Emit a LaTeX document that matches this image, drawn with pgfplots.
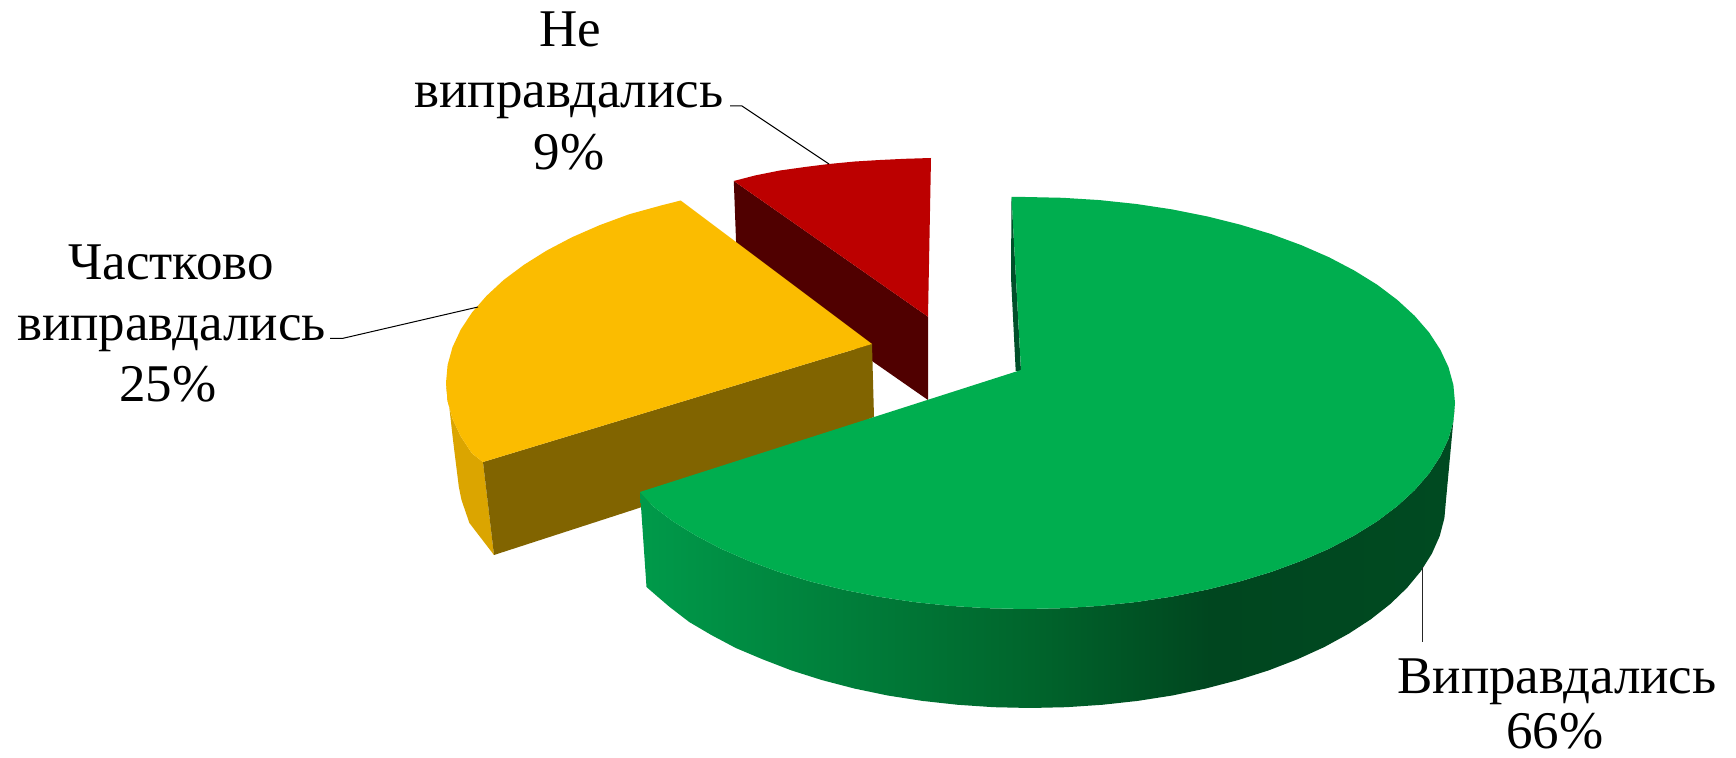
\documentclass[border=0pt]{standalone}
\usepackage{pgfplots}
\pgfplotsset{compat=1.18}
\usepackage{fontspec}
\setmainfont{Liberation Serif}
\definecolor{gtop}{HTML}{00AE4F}
\definecolor{gs0}{HTML}{009A4A}
\definecolor{gs1}{HTML}{00652C}
\definecolor{gs2}{HTML}{00461F}
\definecolor{gs3}{HTML}{004A21}
\definecolor{gnotch}{HTML}{00502A}
\definecolor{ytop}{HTML}{FBBC00}
\definecolor{yfront}{HTML}{816400}
\definecolor{yside}{HTML}{DBA500}
\definecolor{rtop}{HTML}{BC0000}
\definecolor{rside}{HTML}{500000}
\pgfdeclarehorizontalshading{greenside}{100bp}{color(0bp)=(gs0); color(25bp)=(gs0); color(49bp)=(gs1); color(60bp)=(gs2); color(75bp)=(gs3); color(100bp)=(gs3)}
\tikzset{lab/.style={font=\fontsize{26.5}{30}\selectfont, anchor=base, inner sep=0pt, outer sep=0pt, text=black}}
\begin{document}
\begin{tikzpicture}
\begin{axis}[
  scale only axis, width=868pt, height=379pt,
  xmin=0, xmax=1736, ymin=0, ymax=758, y dir=reverse,
  hide axis, clip=false
]
% page background: keeps the picture at the reference's size
\addplot[draw=none, fill=white] coordinates {(0,0) (1736,0) (1736,758) (0,758)} --cycle;
% red slice
\addplot[draw=none, fill=rside] coordinates {(733.8,181) (928,316.7) (928,400) (737,267)} --cycle;
\addplot[draw=none, fill=rtop] coordinates {(733.8,181) (755,175.5) (780,170.5) (805,167) (829,164) (855,161.5) (880,160) (905,158.8) (931,158) (928,316.7)} --cycle;
% yellow slice
\addplot[draw=none, fill=yside] coordinates {(446,383) (447.6,401) (452.5,418.8) (460.7,436.3) (472,453.5) (483,462) (494,555) (469.4,523) (461.5,500) (458.8,486.7) (453,440) (448.5,400)} --cycle;
\addplot[draw=none, fill=yfront] coordinates {(483,462) (872,344) (874,417) (639,508) (494,555)} --cycle;
\addplot[draw=none, fill=ytop] coordinates {(872,344) (680.7,200.5) (661,205.5) (629.4,214.2) (599.6,225.2) (571.9,237.3) (546.6,250.6) (524,264.8) (503.6,280) (486.5,295.9) (472,312.5) (460.7,329.7) (452.5,347.2) (447.6,365) (446,383) (447.6,401) (452.5,418.8) (460.7,436.3) (472,453.5) (483,462)} --cycle;
% green slice
\addplot[draw=none, shade, shading=greenside] coordinates {
(1455,403) (1453.4,421) (1448.5,438.8) (1440.3,456.3) (1429.1,473.5) (1414.7,490.1) (1397.4,506) (1377.3,521.2) (1354.4,535.4) (1329.1,548.7) (1301.4,560.8) (1271.6,571.8) (1240,581.4) (1206.7,589.7) (1172.1,596.6) (1136.3,602) (1099.6,605.9) (1062.5,608.2) (1025,609) (987.5,608.2) (950.4,605.9) (913.7,602) (877.9,596.6) (843.3,589.7) (810,581.4) (778.4,571.8) (748.6,560.8) (720.9,548.7) (695.6,535.4) (672.7,521.2) (652.6,506) (640,492)
(646.5,587) (658,597) (669.7,607) (689.2,622) (711.3,635) (735.8,648) (762.6,659.3) (791.4,670.4) (822,680.1) (854.2,688.5) (887.7,695.5) (922.3,700.9) (957.8,704.8) (993.7,707.2) (1030,708) (1066.3,707.2) (1102.2,704.8) (1137.7,700.9) (1172.3,695.5) (1205.8,688.5) (1238,680.1) (1268.6,670.4) (1297.4,659.3) (1324.2,647.1) (1348.7,633.7) (1370.8,619.3) (1390.3,604) (1407,587.9) (1420.9,571.1) (1431.8,553.8) (1439.7,536.1) (1444.4,518.1) (1446,500)} --cycle;
\addplot[draw=none, fill=gnotch] coordinates {(1011.5,197) (1021,371) (1015.7,371) (1011,277)} --cycle;
\addplot[draw=none, fill=gtop] coordinates {
(1021,370) (1011.5,197) (1025,197) (1062.5,197.8) (1099.6,200.1) (1136.3,204) (1172.1,209.4) (1206.7,216.3) (1240,224.6) (1271.6,234.2) (1301.4,245.2) (1329.1,257.3) (1354.4,270.6) (1377.3,284.8) (1397.4,300) (1414.7,315.9) (1429.1,332.5) (1440.3,349.7) (1448.5,367.2) (1453.4,385)
(1455,403) (1453.4,421) (1448.5,438.8) (1440.3,456.3) (1429.1,473.5) (1414.7,490.1) (1397.4,506) (1377.3,521.2) (1354.4,535.4) (1329.1,548.7) (1301.4,560.8) (1271.6,571.8) (1240,581.4) (1206.7,589.7) (1172.1,596.6) (1136.3,602) (1099.6,605.9) (1062.5,608.2) (1025,609) (987.5,608.2) (950.4,605.9) (913.7,602) (877.9,596.6) (843.3,589.7) (810,581.4) (778.4,571.8) (748.6,560.8) (720.9,548.7) (695.6,535.4) (672.7,521.2) (652.6,506) (640,492)} --cycle;
% leader lines
\addplot[black, line width=0.5pt] coordinates {(730,106) (742,106) (829,164)};
\addplot[black, line width=0.5pt] coordinates {(330,338.3) (343,338.3) (478,307)};
\addplot[black!85, line width=0.5pt] coordinates {(1422,567) (1422,642)};
% labels
\node[lab] at (axis cs:570,47) {Не};
\node[lab] at (axis cs:569,108) {виправдались};
\node[lab] at (axis cs:569,170) {9\%};
\node[lab] at (axis cs:171,280) {Частково};
\node[lab] at (axis cs:171.5,341) {виправдались};
\node[lab] at (axis cs:168,402) {25\%};
\node[lab] at (axis cs:1557,694) {Виправдались};
\node[lab] at (axis cs:1555,749) {66\%};
\end{axis}
\end{tikzpicture}
\end{document}
